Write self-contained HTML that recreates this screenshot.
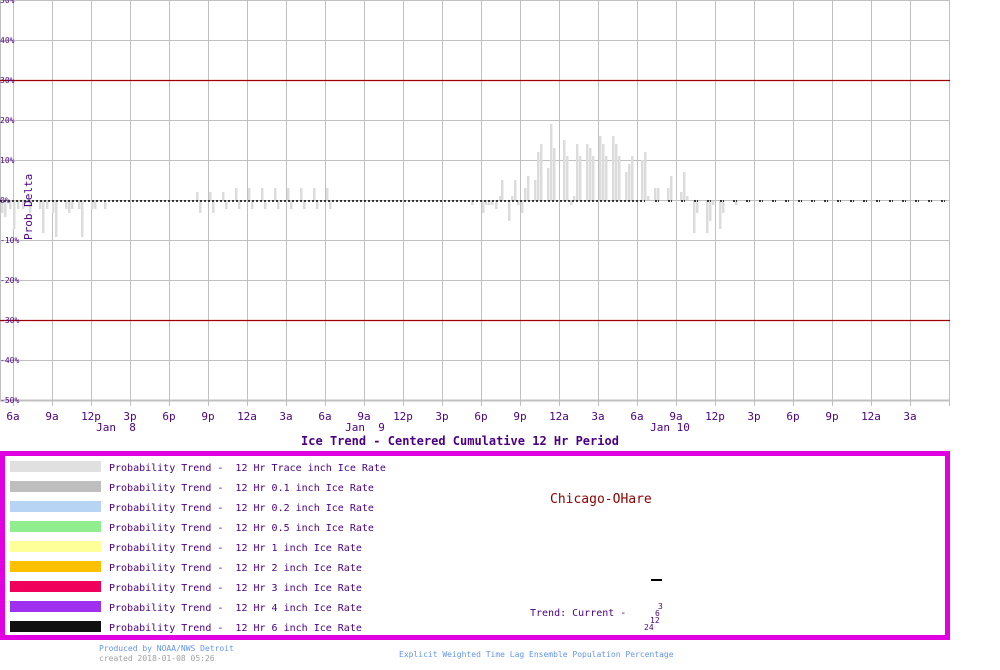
<!DOCTYPE html>
<html><head><meta charset="utf-8"><style>
html,body{margin:0;padding:0;background:#fff;width:1000px;height:670px;overflow:hidden}
svg{display:block}
text{font-family:"DejaVu Sans Mono","Liberation Mono",monospace;white-space:pre}
</style></head><body>
<svg width="1000" height="670" xmlns="http://www.w3.org/2000/svg">
<g id="grid" stroke="#c0c0c0" stroke-width="1">
<line x1="0.5" y1="0" x2="0.5" y2="400"/>
</g>
<script>
const ns="http://www.w3.org/2000/svg";
const svg=document.currentScript.parentNode;
function el(t,a,p){const e=document.createElementNS(ns,t);for(const k in a)e.setAttribute(k,a[k]);(p||svg).appendChild(e);return e;}
const g=document.getElementById('grid');
for(let i=0;i<25;i++){const x=13.5+39*i;el('line',{x1:x,y1:0,x2:x,y2:406},g);}
for(let i=0;i<=10;i++){const y=0.5+40*i;if(i==2||i==8)continue;el('line',{x1:0,y1:y,x2:950,y2:y,'stroke-width':i==10?2:1},g);}
el('line',{x1:0,y1:80.5,x2:950,y2:80.5,stroke:'#a00000','stroke-width':1.3});
el('line',{x1:0,y1:320.5,x2:950,y2:320.5,stroke:'#a00000','stroke-width':1.3});
const bars=[[2,-3],[5,-4],[10,-2],[14,-7],[18,-2],[23,-2],[30,-3],[40,-2],[43,-8],[47,-2],[53,-3],[56,-9],[66,-2],[69,-3],[72,-2],[79,-2],[82,-9],[92,-2],[95,-2],[105,-2],
[197,2],[200,-3],[210,2],[213,-3],[223,2],[226,-2],[236,3],[239,-2],[249,3],[252,-2],[262,3],[265,-2],[275,3],[278,-2],[288,3],[291,-2],[301,3],[304,-2],[314,3],[317,-2],[327,3],[330,-2],
[472,-1],[483,-3],[486,-1],[489,-1],[492,-1],[496,-2],[500,1],[502,5],[509,-5],[512,1],[515,5],[518,-1],[522,-3],[525,3],[528,6],[535,5],[538,12],[541,14],[548,8],[551,19],[554,13],[564,15],[567,11],[571,-1],[574,1],[577,14],[580,11],[587,14],[590,13],[593,11],[600,16],[603,14],[606,11],[613,16],[616,14],[619,11],[626,7],[629,9],[632,11],[642,10],[645,12],[648,1],[655,3],[658,3],[668,3],[671,6],[681,2],[684,7],[687,1],
[694,-8],[697,-3],[707,-8],[710,-5],[713,-1],[720,-7],[723,-3],[736,-1]];
for(const [x,v] of bars){const h=Math.abs(v)*4;el('rect',{x:x-1,y:v>0?200-h:201,width:2.5,height:h,fill:'#dcdcdc'});}
el('line',{x1:0,y1:201,x2:645,y2:201,stroke:'#000','stroke-width':1.5,'stroke-dasharray':'2,2'});
for(let x=655;x<945;x+=13)el('line',{x1:x,y1:201,x2:x+4,y2:201,stroke:'#000','stroke-width':1.5,'stroke-dasharray':'2,1'});
const yl=['50%','40%','30%','20%','10%','0%','-10%','-20%','-30%','-40%','-50%'];
yl.forEach((t,i)=>{const tx=el('text',{x:0,y:40*i+3,'font-size':8,fill:'#4b0082'});tx.textContent=t;});
const xl=['6a','9a','12p','3p','6p','9p','12a','3a','6a','9a','12p','3p','6p','9p','12a','3a','6a','9a','12p','3p','6p','9p','12a','3a'];
xl.forEach((t,i)=>{const tx=el('text',{x:13+39*i,y:420,'font-size':11,fill:'#4b0082','text-anchor':'middle'});tx.textContent=t;});
[['Jan  8',116],['Jan  9',365],['Jan 10',670]].forEach(([t,x])=>{const tx=el('text',{x:x,y:431,'font-size':11,fill:'#4b0082','text-anchor':'middle'});tx.textContent=t;});
const yt=el('text',{x:32,y:240,'font-size':11,fill:'#4b0082',transform:'rotate(-90 32 240)'});yt.textContent='Prob Delta';
const tt=el('text',{x:460,y:445,'font-size':12,'font-weight':'bold',fill:'#4b0082','text-anchor':'middle'});tt.textContent='Ice Trend - Centered Cumulative 12 Hr Period';
el('rect',{x:2.5,y:453.5,width:945,height:184,fill:'#fff',stroke:'#e000e0','stroke-width':5});
const leg=[['#e0e0e0','Trace'],['#bebebe','0.1'],['#b8d4f4','0.2'],['#90ee90','0.5'],['#ffff99','1'],['#ffc000','2'],['#f0005a','3'],['#a030f0','4'],['#101010','6']];
leg.forEach(([c,t],i)=>{const y=461+20*i;el('rect',{x:10,y:y,width:91,height:11,fill:c});
const tx=el('text',{x:109,y:y+10,'font-size':10,fill:'#4b0082'});tx.textContent='Probability Trend -  12 Hr '+t+' inch Ice Rate';});
const ch=el('text',{x:550,y:503,'font-size':13,fill:'#8b0000'});ch.textContent='Chicago-OHare';
el('rect',{x:651,y:579,width:11,height:2,fill:'#000'});
const tr=el('text',{x:530,y:616,'font-size':10,fill:'#4b0082'});tr.textContent='Trend: Current -';
[['3',658,609],['6',655,616],['12',650,623],['24',644,630]].forEach(([t,x,y])=>{const tx=el('text',{x:x,y:y,'font-size':8,fill:'#4b0082'});tx.textContent=t;});
const f1=el('text',{x:99,y:651,'font-size':8,fill:'#6495ed'});f1.textContent='Produced by NOAA/NWS Detroit';
const f2=el('text',{x:99,y:661,'font-size':8,fill:'#a0a0a0'});f2.textContent='created 2018-01-08 05:26';
const f3=el('text',{x:399,y:657,'font-size':8,fill:'#6495ed'});f3.textContent='Explicit Weighted Time Lag Ensemble Population Percentage';
</script>
</svg>
</body></html>
